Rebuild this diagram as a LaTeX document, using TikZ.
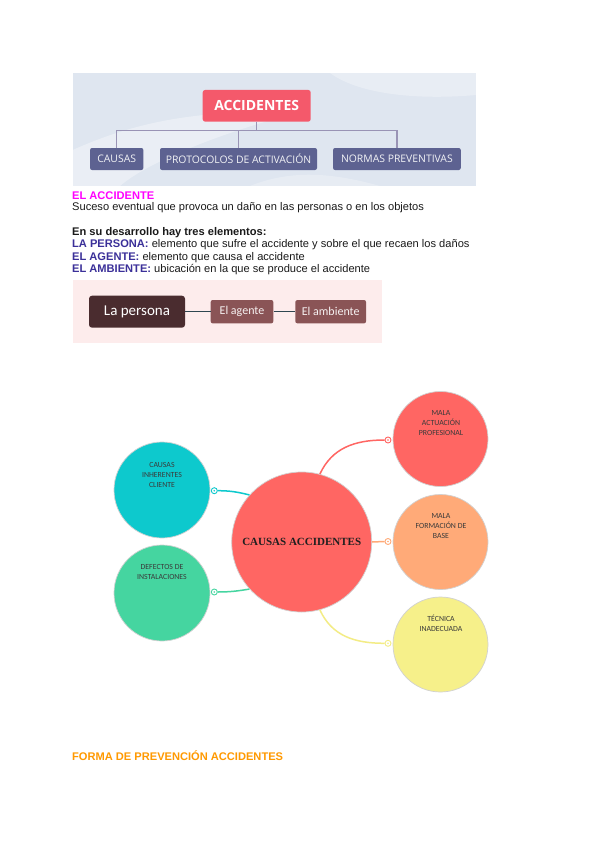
\documentclass[tikz,border=0pt]{standalone}
\usepackage{fontspec}
\setmainfont{Liberation Sans}
\newfontfamily\osans{Open Sans}
\newfontfamily\carl{Carlito}
\newfontfamily\lserif{Liberation Serif}
\definecolor{topbg}{HTML}{DFE6F0}
\definecolor{accred}{HTML}{F4596B}
\definecolor{subblue}{HTML}{5D6291}
\definecolor{treeline}{HTML}{9993B5}
\definecolor{pinkbg}{HTML}{FDECEC}
\definecolor{perbrown}{HTML}{4A2C2F}
\definecolor{agbrown}{HTML}{8A5456}
\definecolor{plink}{HTML}{2F4650}
\definecolor{ccyan}{HTML}{0DC9CD}
\definecolor{cgreen}{HTML}{45D5A0}
\definecolor{cred}{HTML}{FF6663}
\definecolor{corange}{HTML}{FFAA78}
\definecolor{cyellow}{HTML}{F6F08A}
\definecolor{lyellow}{HTML}{F3EC85}
\definecolor{magtext}{HTML}{FF00FF}
\definecolor{indigotext}{HTML}{3B3099}
\definecolor{orangetext}{HTML}{FF9900}
\definecolor{bodytext}{HTML}{1A1A1A}
\definecolor{circtext}{HTML}{3A3A3A}
\tikzset{
  accbox/.style={fill=accred, rounded corners=2.5pt, minimum width=108pt, minimum height=31.7pt, inner sep=0pt, text=white, font=\osans\bfseries\fontsize{14}{16}\selectfont},
  subbox/.style={fill=subblue, rounded corners=2pt, minimum height=22pt, inner sep=0pt, text=white!92!subblue, font=\osans\fontsize{10.4}{12}\selectfont},
  treelink/.style={draw=treeline, line width=1.3pt},
  perbox/.style={fill=perbrown, rounded corners=3pt, minimum width=96pt, minimum height=32pt, inner sep=0pt, text=white, font=\carl\fontsize{15}{17}\selectfont},
  agbox/.style={fill=agbrown, rounded corners=2pt, minimum height=23.3pt, inner sep=0pt, text=white!92!agbrown, font=\carl\fontsize{12}{14}\selectfont},
  plinkline/.style={draw=plink, line width=1.2pt},
  body/.style={anchor=base west, inner sep=0pt, text=bodytext, font=\fontsize{11.1}{12.5}\selectfont},
  bodybold/.style={body, font=\bfseries\fontsize{11.1}{12.5}\selectfont},
  circ/.style={circle, draw=black!18, line width=0.7pt, inner sep=0pt},
  ctext/.style={align=center, inner sep=0pt, text=circtext, font=\carl\fontsize{7.8}{10}\selectfont},
  mdot/.style={circle, draw=#1, fill=white, line width=0.9pt, minimum size=6pt, inner sep=0pt,
    path picture={\fill[#1] (path picture bounding box.center) circle (0.9pt);}},
  clink/.style={draw=#1, line width=1.5pt}
}
\begin{document}
\begin{tikzpicture}[x=1pt,y=-1pt]
\useasboundingbox (0,0) rectangle (600,848);
\fill[white] (0,0) rectangle (600,848);

% ---- top diagram ----
\fill[topbg] (72.7,73) rectangle (476,186);
\begin{scope}
\clip (72.7,73) rectangle (476,186);
\fill[white, opacity=0.35] (72.7,186) -- (72.7,150) .. controls (140,120) and (200,110) .. (300,112) .. controls (230,130) and (150,160) .. (120,186) -- cycle;
\fill[white, opacity=0.3] (330,73) .. controls (360,95) and (420,100) .. (476,95) -- (476,73) -- cycle;
\fill[white, opacity=0.25] (250,186) .. controls (290,170) and (330,172) .. (380,186) -- cycle;
\end{scope}
\node[accbox] (acc) at (256.7,105.8) {ACCIDENTES};
\node[subbox, minimum width=53.3pt] (causas) at (116.7,159) {CAUSAS};
\node[subbox, minimum width=157pt] (proto) at (238.5,159) {PROTOCOLOS DE ACTIVACIÓN};
\node[subbox, minimum width=127.7pt] (normas) at (396.9,159) {NORMAS PREVENTIVAS};
\draw[treelink] (acc.south) -- ++(0,9) coordinate (hub) -| (causas.north);
\draw[treelink] (hub) -| (normas.north);
\draw[treelink] (hub -| proto.north) -- (proto.north);

% ---- text block ----
\node[bodybold, text=magtext] (t1) at (72,199) {EL ACCIDENTE};
\node[body] (t2) at (72,210) {Suceso eventual que provoca un daño en las personas o en los objetos};
\node[bodybold] (t3) at (72,235) {En su desarrollo hay tres elementos:};
\node[body] (t4) at (72,247.7) {\textcolor{indigotext}{\bfseries LA PERSONA:} elemento que sufre el accidente y sobre el que recaen los daños};
\node[body] (t5) at (72,260) {\textcolor{indigotext}{\bfseries EL AGENTE:} elemento que causa el accidente};
\node[body] (t6) at (72,272.3) {\textcolor{indigotext}{\bfseries EL AMBIENTE:} ubicación en la que se produce el accidente};

% ---- second diagram ----
\fill[pinkbg] (73,280) rectangle (381.7,343);
\node[perbox] (per) at (137,311.7) {La persona};
\node[agbox, minimum width=62.6pt] (age) at (242,311.7) {El agente};
\node[agbox, minimum width=70.7pt] (amb) at (330.7,311.7) {El ambiente};
\draw[plinkline] (per.east) -- (age.west);
\draw[plinkline] (age.east) -- (amb.west);

% ---- mind map ----
\node[circ, fill=ccyan, minimum size=96pt] (c1) at (162,490) {};
\node[circ, fill=cgreen, minimum size=96pt] (c2) at (162,593) {};
\node[circ, fill=cred, minimum size=95pt] (c3) at (440.5,439) {};
\node[circ, fill=corange, minimum size=95pt] (c4) at (440.5,542) {};
\node[circ, fill=cyellow, minimum size=95pt] (c5) at (440.5,644.5) {};
\node[circ, fill=cred, minimum size=140pt, font=\lserif\bfseries\fontsize{11}{13}\selectfont, text=black!88] (cc) at (301.7,542) {CAUSAS ACCIDENTES};

\node[ctext] (l1) at (162,474.7) {CAUSAS\\INHERENTES\\CLIENTE};
\node[ctext] (l2) at (162,572.2) {DEFECTOS DE\\INSTALACIONES};
\node[ctext] (l3) at (441,423.3) {MALA\\ACTUACIÓN\\PROFESIONAL};
\node[ctext] (l4) at (441,525.8) {MALA\\FORMACIÓN DE\\BASE};
\node[ctext] (l5) at (441,623) {TÉCNICA\\INADECUADA};

\node[mdot=ccyan] (m1) at (214.3,490.7) {};
\node[mdot=cgreen] (m2) at (214.3,592) {};
\node[mdot=cred] (m3) at (388,440) {};
\node[mdot=corange] (m4) at (388,541.5) {};
\node[mdot=lyellow] (m5) at (388,643.3) {};

\draw[clink=ccyan] (m1.east) .. controls +(12,0) and +(-12,-3) .. (cc.138);
\draw[clink=cgreen] (m2.east) .. controls +(12,0) and +(-12,2) .. (cc.222);
\draw[clink=cred] (cc.75) .. controls +(12,-26) and +(-30,0) .. (m3.west);
\draw[clink=corange] (cc.east) -- (m4.west);
\draw[clink=lyellow] (cc.285) .. controls +(12,26) and +(-30,0) .. (m5.west);

% ---- final heading ----
\node[bodybold, text=orangetext] (t7) at (72,760) {FORMA DE PREVENCIÓN ACCIDENTES};
\end{tikzpicture}
\end{document}
